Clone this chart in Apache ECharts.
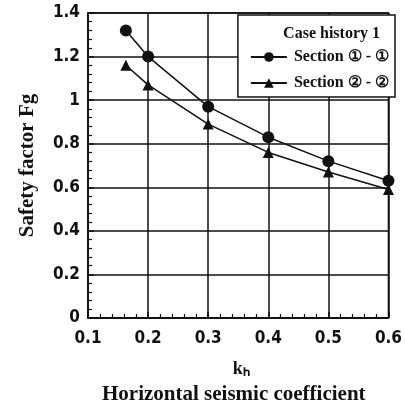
<!DOCTYPE html>
<html>
<head>
<meta charset="utf-8">
<script src="https://cdn.jsdelivr.net/npm/echarts@6/dist/echarts.min.js"></script>
<style>html,body{margin:0;padding:0;background:#fff;}#c{width:405px;height:407px;}</style>
</head>
<body>
<div id="c"></div>
<script>
var kh1 = [0.163, 0.2, 0.3, 0.4, 0.5, 0.6];
var fg1 = [1.32, 1.2, 0.97, 0.83, 0.72, 0.63];
var kh2 = [0.163, 0.2, 0.3, 0.4, 0.5, 0.6];
var fg2 = [1.16, 1.07, 0.89, 0.76, 0.67, 0.59];
var seriesNames = ['Section \u2460 - \u2460', 'Section \u2461 - \u2461'];
var legendTitle = 'Case history 1';

function pairs(xs, ys) { return xs.map(function (x, i) { return [x, ys[i]]; }); }

var chart = echarts.init(document.getElementById('c'));
var tickFont = { fontFamily: 'DejaVu Sans Condensed', fontWeight: 'bold', fontSize: 17, color: '#111' };
chart.setOption({
  animation: false,
  backgroundColor: '#fff',
  grid: { left: 88, right: 15, top: 13, bottom: 89, show: true, borderColor: '#111', borderWidth: 1.5, backgroundColor: 'transparent' },
  title: {
    text: legendTitle, right: 20, top: 21,
    textStyle: { fontFamily: 'Liberation Serif', fontWeight: 'bold', fontSize: 16, color: '#111' }
  },
  legend: {
    orient: 'vertical', right: 10, top: 15,
    padding: [34, 6, 6, 12], itemGap: 10,
    itemWidth: 36, itemHeight: 12,
    backgroundColor: '#fff', borderColor: '#111', borderWidth: 1.5,
    textStyle: { fontFamily: 'Liberation Serif', fontWeight: 'bold', fontSize: 16, color: '#111', padding: [0, 0, 0, 2] },
    data: seriesNames
  },
  xAxis: {
    type: 'value', min: 0.1, max: 0.6, interval: 0.1,
    name: 'k\u2095', nameLocation: 'middle', nameGap: 42,
    nameTextStyle: { fontFamily: 'Liberation Serif', fontWeight: 'bold', fontSize: 18, color: '#111', padding: [0, 0, 0, 6] },
    axisLine: { lineStyle: { color: '#111', width: 1.5 } },
    axisTick: { inside: true, length: 6, lineStyle: { color: '#111', width: 1.5 } },
    minorTick: { show: true, splitNumber: 5, length: 4, lineStyle: { color: '#111', width: 1.2 } },
    axisLabel: Object.assign({ margin: 12, formatter: function (v) { return v.toFixed(1); } }, tickFont),
    splitLine: { show: true, lineStyle: { color: '#111', width: 1.5 } }
  },
  yAxis: {
    type: 'value', min: 0, max: 1.4, interval: 0.2,
    name: 'Safety factor Fg', nameLocation: 'middle', nameGap: 50,
    nameTextStyle: { fontFamily: 'Liberation Serif', fontWeight: 'bold', fontSize: 21, color: '#111' },
    axisLine: { lineStyle: { color: '#111', width: 1.5 } },
    axisTick: { inside: true, length: 6, lineStyle: { color: '#111', width: 1.5 } },
    minorTick: { show: true, splitNumber: 5, length: 4, lineStyle: { color: '#111', width: 1.2 } },
    axisLabel: Object.assign({ margin: 8 }, tickFont),
    splitLine: { show: true, lineStyle: { color: '#111', width: 1.5 } }
  },
  graphic: [{
    type: 'text', left: 102, top: 384,
    style: { text: 'Horizontal seismic coefficient', font: 'bold 21px "Liberation Serif"', fill: '#111' }
  }],
  series: [
    {
      name: seriesNames[0], type: 'line', data: pairs(kh1, fg1),
      symbol: 'circle', symbolSize: 12,
      lineStyle: { color: '#111', width: 1.5 }, itemStyle: { color: '#111' }
    },
    {
      name: seriesNames[1], type: 'line', data: pairs(kh2, fg2),
      symbol: 'triangle', symbolSize: 11,
      lineStyle: { color: '#111', width: 1.5 }, itemStyle: { color: '#111' }
    }
  ]
});
</script>
</body>
</html>
